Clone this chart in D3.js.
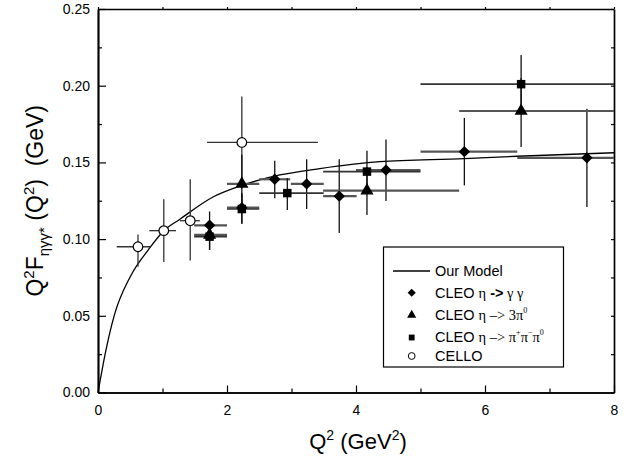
<!DOCTYPE html>
<html><head><meta charset="utf-8">
<script src="https://cdn.jsdelivr.net/npm/d3@7"></script>
<style>body{margin:0;background:#fff}svg{display:block}</style>
</head><body><svg id="c" width="637" height="466"></svg>
<script>
// ---- data ----
// each point: [Q2, value, Q2low, Q2high, valueLow, valueHigh]
const cello = [
  [0.62, 0.095, 0.29, 0.81, 0.082, 0.103],
  [1.02, 0.1055, 0.795, 1.21, 0.085, 0.126],
  [1.43, 0.112, 1.27, 1.58, 0.086, 0.139],
  [2.23, 0.163, 1.69, 3.41, 0.133, 0.193]
];
const cleoGG = [
  [1.73, 0.109, 1.49, 2.0, 0.100, 0.118],
  [2.23, 0.1205, 2.0, 2.5, 0.110, 0.130],
  [2.74, 0.139, 2.5, 2.98, 0.1266, 0.151],
  [3.235, 0.136, 2.99, 3.5, 0.1196, 0.152],
  [3.74, 0.128, 3.49, 4.01, 0.104, 0.152],
  [4.465, 0.145, 4.0, 5.0, 0.1248, 0.165],
  [5.68, 0.157, 5.0, 6.5, 0.135, 0.179],
  [7.58, 0.153, 6.5, 8.0, 0.121, 0.185]
];
const cleo3pi0 = [
  [1.73, 0.1027, 1.49, 2.0, 0.093, 0.112],
  [2.23, 0.136, 2.0, 2.5, 0.121, 0.155],
  [4.17, 0.1316, 3.49, 5.6, 0.1157, 0.147],
  [6.56, 0.1835, 5.6, 8.0, 0.160, 0.205]
];
const cleoPPP = [
  [1.73, 0.1016, 1.49, 2.0, 0.093, 0.110],
  [2.23, 0.1196, 2.0, 2.5, 0.110, 0.129],
  [2.935, 0.130, 2.5, 3.5, 0.119, 0.1396],
  [4.17, 0.144, 3.49, 5.0, 0.130, 0.1576],
  [6.56, 0.201, 5.0, 8.0, 0.183, 0.220]
];
const modelQ2 = [0, 0.12, 0.25, 0.50, 0.78, 1.02, 1.27, 1.79, 2.23, 2.82, 3.44, 4.37, 5.68, 6.5, 8.0];
const modelF  = [0, 0.027, 0.050, 0.0755, 0.093, 0.1055, 0.113, 0.1276, 0.135, 0.1418, 0.146, 0.1505, 0.1524, 0.1540, 0.1563];
const xTicks = [0, 2, 4, 6, 8];
const xMinor = [1, 3, 5, 7];
const yTicks = [0, 0.05, 0.10, 0.15, 0.20, 0.25];
const yMinor = [0.025, 0.075, 0.125, 0.175, 0.225];

// ---- drawing ----
const svg = d3.select("#c");
const L = 98, R = 614, T = 9, B = 392.5;
const x = d3.scaleLinear().domain([0, 8]).range([L, R]);
const y = d3.scaleLinear().domain([0, 0.25]).range([B, T]);
const sans = "Arial, 'Liberation Sans', sans-serif";
const serif = "'Liberation Serif', 'Times New Roman', serif";

// axes
svg.append("g").attr("transform", `translate(0,${B})`)
  .call(d3.axisBottom(x).tickValues(xTicks).tickSizeInner(-7).tickSizeOuter(0).tickPadding(13).tickFormat(d3.format("d")));
svg.append("g").attr("transform", `translate(0,${B})`)
  .call(d3.axisBottom(x).tickValues(xMinor).tickSizeInner(-4).tickSizeOuter(0).tickFormat(""));
svg.append("g").attr("transform", `translate(${L},0)`)
  .call(d3.axisLeft(y).tickValues(yTicks).tickSizeInner(-8).tickSizeOuter(0).tickPadding(8).tickFormat(d3.format(".2f")));
svg.append("g").attr("transform", `translate(${L},0)`)
  .call(d3.axisLeft(y).tickValues(yMinor).tickSizeInner(-4).tickSizeOuter(0).tickFormat(""));
svg.append("g").attr("transform", `translate(${R},0)`)
  .call(d3.axisRight(y).tickValues(yTicks.concat(yMinor)).tickSizeInner(-3).tickSizeOuter(0).tickFormat(""));
svg.append("g").attr("transform", `translate(0,${T})`)
  .call(d3.axisTop(x).tickValues(xTicks.concat(xMinor)).tickSizeInner(2).tickSizeOuter(0).tickFormat(""));
svg.selectAll(".domain").attr("stroke", "#000").attr("stroke-width", 1.7);
svg.selectAll(".tick line").attr("stroke", "#000").attr("stroke-width", 1.2);
svg.selectAll(".tick text").attr("font-family", sans).attr("font-size", 14).attr("fill", "#000");

// model curve
const modelPts = modelQ2.map((q, i) => [q, modelF[i]]);
svg.append("path").datum(modelPts)
  .attr("fill", "none").attr("stroke", "#000").attr("stroke-width", 1.3)
  .attr("d", d3.line().x(d => x(d[0])).y(d => y(d[1])).curve(d3.curveMonotoneX));

// error bars
function errBars(data, hColor, hWidth, vColor, vWidth) {
  const g = svg.append("g");
  g.selectAll(".h").data(data).join("line")
    .attr("x1", d => x(d[2])).attr("x2", d => x(d[3]))
    .attr("y1", d => y(d[1])).attr("y2", d => y(d[1]))
    .attr("stroke", hColor).attr("stroke-width", hWidth);
  g.selectAll(".v").data(data).join("line")
    .attr("x1", d => x(d[0])).attr("x2", d => x(d[0]))
    .attr("y1", d => y(d[4])).attr("y2", d => y(d[5]))
    .attr("stroke", vColor).attr("stroke-width", vWidth);
}
errBars(cello, "#333", 1.3, "#333", 1.3);
errBars(cleoGG, "#555", 2.2, "#111", 1.3);
errBars(cleo3pi0, "#555", 2.2, "#111", 1.3);
errBars(cleoPPP, "#333", 1.6, "#111", 1.3);

// markers
const sym = {
  diamond: d3.symbol().type(d3.symbolDiamond2),
  triangle: d3.symbol().type(d3.symbolTriangle),
  square: d3.symbol().type(d3.symbolSquare)
};
function markers(data, type, size) {
  svg.append("g").selectAll("path").data(data).join("path")
    .attr("transform", d => `translate(${x(d[0])},${y(d[1])})`)
    .attr("d", sym[type].size(size)()).attr("fill", "#000");
}
markers(cleoGG, "diamond", 82);
markers(cleo3pi0, "triangle", 75);
markers(cleoPPP, "square", 72);
svg.append("g").selectAll("circle").data(cello).join("circle")
  .attr("cx", d => x(d[0])).attr("cy", d => y(d[1])).attr("r", 4.8)
  .attr("fill", "#fff").attr("stroke", "#000").attr("stroke-width", 1.2);

// legend
const lg = svg.append("g");
lg.append("rect").attr("x", 383.5).attr("y", 247).attr("width", 180).attr("height", 120)
  .attr("fill", "#fff").attr("stroke", "#000").attr("stroke-width", 1.2);
lg.append("line").attr("x1", 393).attr("x2", 430).attr("y1", 271).attr("y2", 271)
  .attr("stroke", "#000").attr("stroke-width", 1.3);
const lx = 411.7;
lg.append("path").attr("transform", `translate(${lx},292.7)`).attr("d", sym.diamond.size(42)()).attr("fill", "#000");
lg.append("path").attr("transform", `translate(${lx},315)`).attr("d", sym.triangle.size(36)()).attr("fill", "#000");
lg.append("path").attr("transform", `translate(${lx},337.5)`).attr("d", sym.square.size(34)()).attr("fill", "#000");
lg.append("circle").attr("cx", lx).attr("cy", 356).attr("r", 3.4).attr("fill", "#fff").attr("stroke", "#000").attr("stroke-width", 1);

const legendRows = [
  {yb: 276, parts: [["Our Model", sans]]},
  {yb: 298, parts: [["CLEO ", sans], ["η", serif], [" ->", sans, "bold"], [" γ γ", serif]]},
  {yb: 320, parts: [["CLEO ", sans], ["η", serif], [" –> 3π", serif], ["0", serif, null, "sup"]]},
  {yb: 342, parts: [["CLEO ", sans], ["η", serif], [" –> π", serif], ["+", serif, null, "sup"], ["π", serif], ["−", serif, null, "sup"], ["π", serif], ["0", serif, null, "sup"]]},
  {yb: 361, parts: [["CELLO", sans]]}
];
legendRows.forEach(row => {
  const t = lg.append("text").attr("x", 435).attr("y", row.yb).attr("font-size", 14.5).attr("fill", "#000");
  let raised = false;
  row.parts.forEach(p => {
    const ts = t.append("tspan").attr("font-family", p[1]).text(p[0]);
    if (p[2]) ts.attr("font-weight", p[2]);
    if (p[3] === "sup") { ts.attr("font-size", 8).attr("dy", raised ? 0 : -7); raised = true; }
    else { ts.attr("dy", raised ? 7 : 0); raised = false; }
  });
});

// axis titles
const xt = svg.append("text").attr("x", 358).attr("y", 449).attr("text-anchor", "middle")
  .attr("font-family", sans).attr("font-size", 22).attr("fill", "#000");
xt.append("tspan").text("Q");
xt.append("tspan").attr("font-size", 14).attr("dy", -9).text("2");
xt.append("tspan").attr("dy", 9).text(" (GeV");
xt.append("tspan").attr("font-size", 14).attr("dy", -9).text("2");
xt.append("tspan").attr("dy", 9).text(")");

const yt = svg.append("text").attr("transform", `translate(43,${(T + B) / 2}) rotate(-90)`)
  .attr("text-anchor", "middle").attr("font-family", sans).attr("font-size", 23).attr("fill", "#000");
yt.append("tspan").text("Q");
yt.append("tspan").attr("font-size", 15).attr("dy", -9).text("2");
yt.append("tspan").attr("dy", 9).text("F");
yt.append("tspan").attr("font-size", 15).attr("dy", 6).text("ηγγ*");
yt.append("tspan").attr("dy", -6).text(" (Q");
yt.append("tspan").attr("font-size", 15).attr("dy", -9).text("2");
yt.append("tspan").attr("dy", 9).text(")\u00a0\u00a0(GeV)");
</script></body></html>
